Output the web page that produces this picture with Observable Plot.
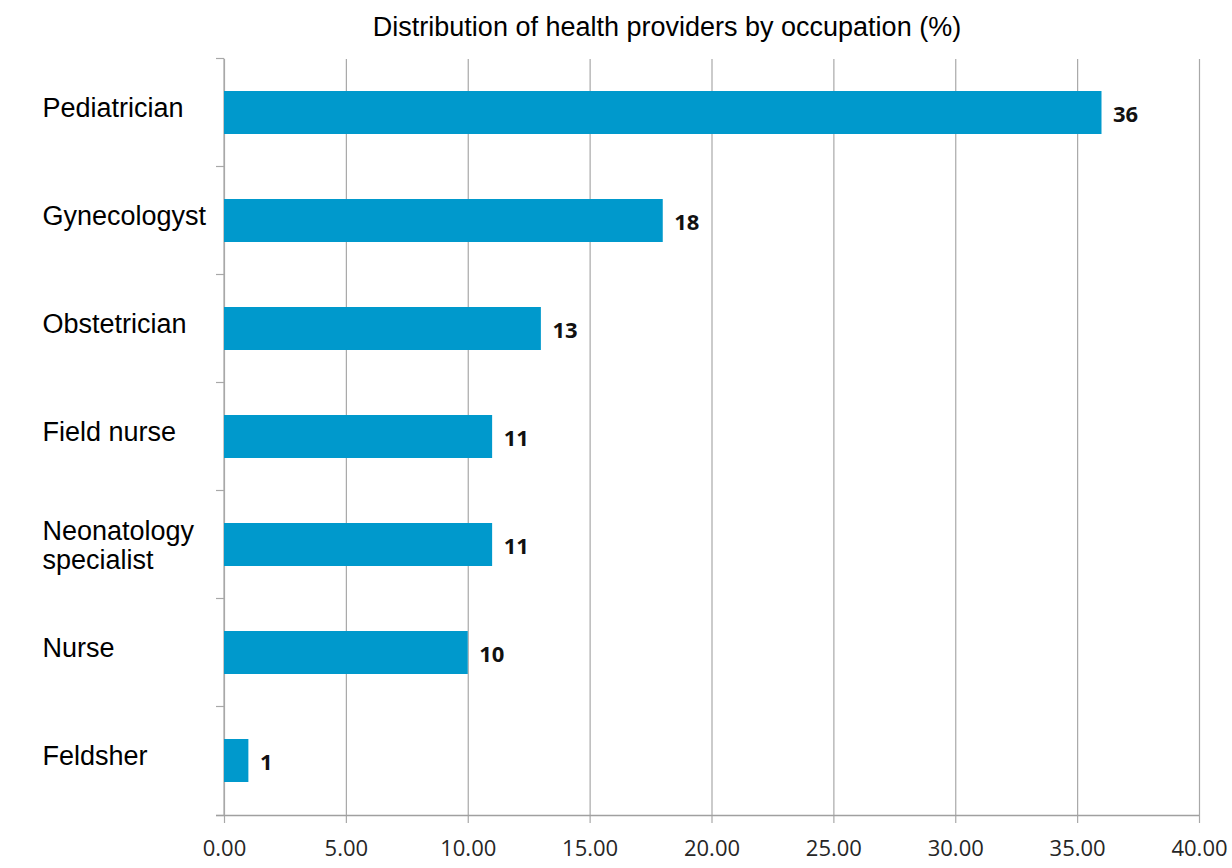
<!DOCTYPE html>
<html>
<head>
<meta charset="utf-8">
<script src="https://cdn.jsdelivr.net/npm/d3@7"></script>
<script src="https://cdn.jsdelivr.net/npm/@observablehq/plot@0.6"></script>
<style>
  html, body { margin: 0; padding: 0; background: #fff; }
  #title { position: relative; height: 49px; width: 1232px; }
  #title span { position: absolute; left: 667px; top: 12px; transform: translateX(-50%);
    font-family: "Liberation Sans", Arial, sans-serif; font-size: 27px; color: #000; white-space: nowrap; }
  svg { display: block; }
</style>
</head>
<body>
<div id="title"><span></span></div>
<div id="chart"></div>
<script>
const titleText = "Distribution of health providers by occupation (%)";
const categories = ["Pediatrician", "Gynecologyst", "Obstetrician", "Field nurse", "Neonatology\nspecialist", "Nurse", "Feldsher"];
const shares = [36, 18, 13, 11, 11, 10, 1];
const xTicks = [0, 5, 10, 15, 20, 25, 30, 35, 40];

document.querySelector("#title span").textContent = titleText;

const data = categories.map((c, i) => ({category: c, share: shares[i]}));
const gray = "#a8a8a8";

const axisLines = (index, scales) => {
  const y = scales.y, x = scales.x;
  const step = y.step(), bw = y.bandwidth();
  const half = (step - bw) / 2;
  const ys = categories.map(c => y(c) - half);
  const yBottom = Math.round(y(categories[categories.length - 1]) + bw + half) + 0.5;
  ys.push(yBottom);
  const x0 = x(xTicks[0]);
  const x1 = x(xTicks[xTicks.length - 1]);
  const g = d3.create("svg:g").attr("stroke", gray).attr("stroke-width", 1.2).attr("fill", "none");
  for (const yy of ys) {
    g.append("line").attr("x1", x0 - 8).attr("x2", x0).attr("y1", yy).attr("y2", yy);
  }
  g.append("path").attr("d", `M${x0 - 8},${yBottom}H${x1}`).attr("stroke", "#a0a0a0").attr("stroke-width", 1.5);
  g.append("path").attr("d", `M${x0},${ys[0]}V${yBottom}`);
  return g.node();
};

const chart = Plot.plot({
  width: 1232,
  height: 819,
  marginTop: 10,
  marginBottom: 53,
  marginLeft: 224,
  marginRight: 33,
  style: {fontFamily: "'Open Sans', sans-serif", background: "#fff", overflow: "visible"},
  x: {domain: [0, 40]},
  y: {domain: categories, paddingInner: 0.6, paddingOuter: 0.3, axis: null},
  marks: [
    Plot.gridX(xTicks, {stroke: gray, strokeOpacity: 1, strokeWidth: 1.2}),
    Plot.axisX({ticks: xTicks, tickSize: 8, tickPadding: 17, stroke: gray, strokeOpacity: 1, strokeWidth: 1.2,
      tickFormat: d3.format(".2f"), fontSize: 22, fill: "#262626", label: null}),
    axisLines,
    Plot.barX(data, {x: "share", y: "category", fill: "#0099cc"}),
    Plot.text(data, {x: "share", y: "category", text: d => String(d.share), dx: 11, dy: 2,
      textAnchor: "start", fontWeight: "bold", fontSize: 22, fill: "#111"}),
    Plot.text(data.filter(d => !d.category.includes("\n")), {y: "category", text: "category", frameAnchor: "left",
      dx: -182, dy: -5, textAnchor: "start", fontFamily: "'Liberation Sans', Arial, sans-serif", fontSize: 27, fill: "#000"}),
    Plot.text(data.filter(d => d.category.includes("\n")), {y: "category", text: "category", frameAnchor: "left",
      dx: -182, dy: 0, textAnchor: "start", lineHeight: 1.1, fontFamily: "'Liberation Sans', Arial, sans-serif", fontSize: 27, fill: "#000"})
  ]
});
document.getElementById("chart").appendChild(chart);
</script>
</body>
</html>
